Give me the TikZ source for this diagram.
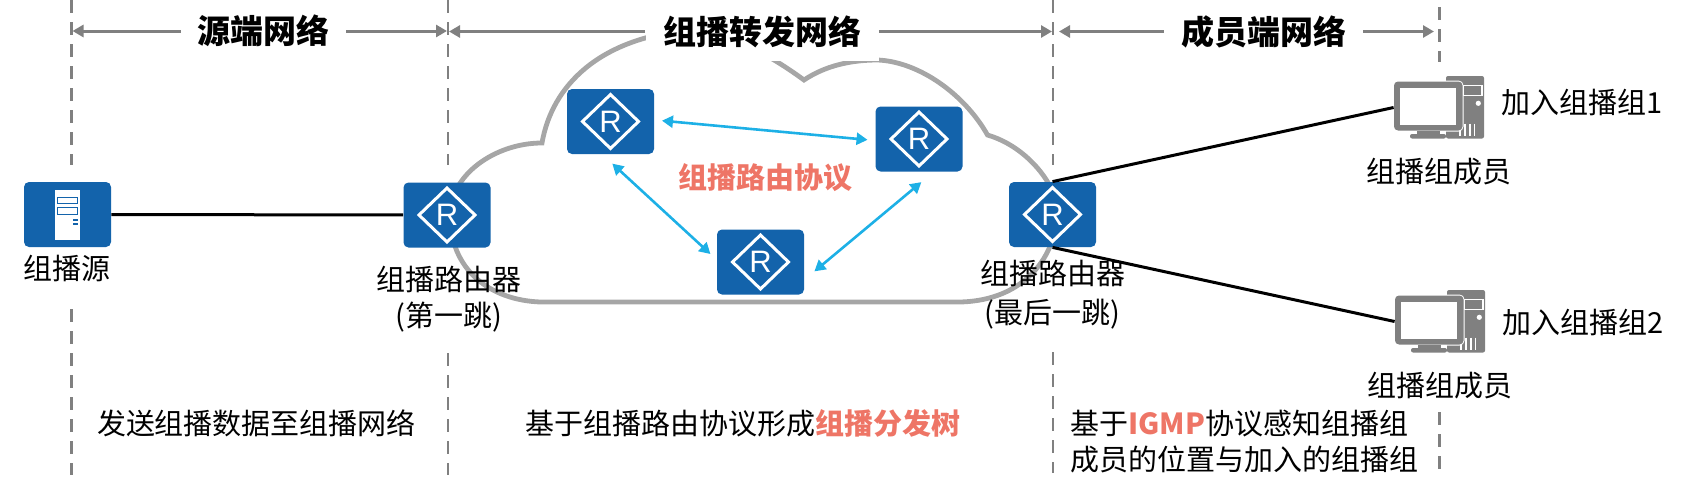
\documentclass[tikz,border=0pt]{standalone}
\usepackage{fontspec}
\setmainfont{Noto Sans CJK SC}
\newfontfamily\iconfont{Liberation Sans}
\usepackage{tikz}
\usetikzlibrary{arrows.meta,positioning}
\definecolor{huaweiblue}{HTML}{1363AB}
\definecolor{linkblue}{HTML}{1DB0E6}
\definecolor{salmon}{HTML}{EE7566}
\definecolor{cloudgray}{HTML}{A6A6A6}
\definecolor{spangray}{HTML}{808080}
\newcommand{\hot}[1]{\textbf{\textcolor{salmon}{#1}}}

\begin{document}
\begin{tikzpicture}[x=0.5pt, y=-0.5pt]
        \tikzstyle{block} = [rectangle, fill=huaweiblue, rounded corners=2.5pt, minimum width=43.5pt, minimum height=32.5pt, inner sep=0pt]
        \tikzstyle{router} = [block,
            label={[text=white, inner sep=0pt, font=\iconfont\fontsize{15.5}{15.5}\selectfont]center:R},
            path picture={\draw [white, sharp corners, line width=1.5pt, line join=miter] (-28,0) -- (0,-27) -- (28,0) -- (0,27) -- cycle;}]
        \tikzstyle{server} = [block,
            path picture={
                \fill [white, sharp corners] (-13,-25) rectangle (12.5,25);
                \draw [huaweiblue, sharp corners, line width=0.6pt] (-10,-17) rectangle (10,-11);
                \draw [huaweiblue, sharp corners, line width=0.6pt] (-10,-7) rectangle (10,0);
                \fill [huaweiblue, sharp corners] (5.5,4) rectangle (10,6.5);
                \fill [huaweiblue, sharp corners] (5.5,8) rectangle (10,10.5);}]
        \tikzstyle{member} = [rectangle, minimum width=45pt, minimum height=31.5pt, inner sep=0pt,
            path picture={
                \fill [spangray, rounded corners=1pt] (7,-31.5) rectangle (45,31);
                \draw [white, line width=0.6pt] (24,-22) rectangle (43,-12);
                \fill [white] (39.3,-4.2) circle (2.6);
                \draw [white, line width=0.7pt] (21,16) -- (21,28) (26,16) -- (26,28) (31,16) -- (31,28) (35.5,16) -- (35.5,28);
                \fill [white, rounded corners=2.5pt] (-46,-27) rectangle (24.5,24);
                \fill [spangray, rounded corners=2pt] (-45,-26) rectangle (23.5,23);
                \fill [white] (-39,-20) rectangle (17,17);
                \fill [spangray] (-22,23) rectangle (1,26);
                \fill [spangray, rounded corners=1pt] (-29,26.5) rectangle (7,31);}]
        \tikzstyle{head} = [rectangle, fill=white, inner sep=0pt, font=\fontsize{16.5}{16.5}\selectfont\bfseries]
        \tikzstyle{caption} = [font=\fontsize{14.5}{18}\selectfont, inner sep=0pt, align=center]
        \tikzstyle{divider} = [draw=spangray, line width=1.2pt, dash pattern=on 6.5pt off 4.5pt]
        \tikzstyle{span} = [draw=spangray, line width=1.5pt, -{Triangle[length=5.5pt,width=6pt]}]
        \tikzstyle{line} = [draw=black, line width=1.5pt]
        \tikzstyle{proto} = [draw=linkblue, line width=1.3pt, {Triangle[length=5.5pt,width=6pt]}-{Triangle[length=5.5pt,width=6pt]}]

        \useasboundingbox (0,0) rectangle (1682,493);

        % dashed dividers
        \coordinate (d1a) at (71.5,0);
        \coordinate (d1b) at (71.5,165);
        \coordinate (d1c) at (71.5,309);
        \coordinate (d1d) at (71.5,475);
        \coordinate (d2a) at (448,0);
        \coordinate (d2b) at (448,165);
        \coordinate (d2c) at (448,353);
        \coordinate (d2d) at (448,475);
        \coordinate (d3a) at (1053,0);
        \coordinate (d3b) at (1053,165);
        \coordinate (d3c) at (1053,352);
        \coordinate (d3d) at (1053,473);
        \coordinate (d4a) at (1439.5,7);
        \coordinate (d4b) at (1439.5,62);
        \coordinate (d4c) at (1439.5,412);
        \coordinate (d4d) at (1439.5,469);
        \path [divider] (d1a) -- (d1b);
        \path [divider] (d1c) -- (d1d);
        \path [divider] (d2a) -- (d2b);
        \path [divider] (d2c) -- (d2d);
        \path [divider] (d3a) -- (d3b);
        \path [divider] (d3c) -- (d3d);
        \path [divider] (d4a) -- (d4b);
        \path [divider] (d4c) -- (d4d);

        % cloud
        \draw [cloudgray, line width=2.4pt, line join=miter]
            (542,143) .. controls (552,85) and (600,38) .. (690,30)
            .. controls (725,30) and (770,55) .. (804,80)
            .. controls (825,66) and (850,60) .. (878,60)
            .. controls (920,62) and (965,95) .. (987.5,135)
            .. controls (1015,143) and (1040,165) .. (1052,190)
            .. controls (1068,225) and (1045,300) .. (960,302)
            -- (540,302)
            .. controls (490,300) and (450,270) .. (450,215)
            .. controls (450,175) and (495,143) .. (542,143) -- cycle;

        % network headings
        \node [head, minimum width=82.5pt, minimum height=25pt] (srchead) at (263.5,31) {源端网络};
        \node [head, minimum width=116.5pt, minimum height=29pt] (fwdhead) at (762,31.5) {组播转发网络};
        \node [head, minimum width=99.5pt, minimum height=25pt] (memhead) at (1263.5,31.5) {成员端网络};
        \coordinate (s1a) at (72.5,31);
        \coordinate (s1b) at (447,31);
        \coordinate (s2a) at (449,31.5);
        \coordinate (s2b) at (1052,31.5);
        \coordinate (s3a) at (1059,31.5);
        \coordinate (s3b) at (1434,31.5);
        \path [span] (srchead) -- (s1a);
        \path [span] (srchead) -- (s1b);
        \path [span] (fwdhead) -- (s2a);
        \path [span] (fwdhead) -- (s2b);
        \path [span] (memhead) -- (s3a);
        \path [span] (memhead) -- (s3b);

        % devices
        \node [server] (src) at (67.5,214.5) {};
        \node [router] (first) at (447,215) {};
        \node [router] (topleft) at (610.5,121.5) {};
        \node [router] (topright) at (919,139) {};
        \node [router] (bottom) at (760.5,262) {};
        \node [router] (last) at (1052.5,214.5) {};
        \node [member] (pc1) at (1439,107.5) {};
        \node [member] (pc2) at (1440,321.5) {};

        \path [line] (src) -- (first);
        \path [line] (last.north) -- (pc1.west);
        \path [line] (last.south) -- (pc2.west);
        \path [proto, shorten <=3.8pt, shorten >=3.8pt] (topleft.2) -- (topright.182);
        \path [proto, shorten <=6.8pt, shorten >=4.2pt] (topleft.256) -- (bottom.177);
        \path [proto, shorten <=6.5pt, shorten >=8pt] (bottom.-22) -- (topright.294);

        % labels
        \node [caption, below of=src, node distance=27pt] (srclabel) {组播源};
        \node [caption, below of=first, node distance=42pt, xshift=1pt] (firstlabel) {组播路由器\\(第一跳)};
        \node [caption, below of=last, node distance=40pt] (lastlabel) {组播路由器\\[1.5pt](最后一跳)};
        \node [caption, below of=pc1, node distance=32pt] (pc1label) {组播组成员};
        \node [caption, below of=pc2, node distance=32pt] (pc2label) {组播组成员};
        \node [caption] (join1) at (1582,102) {加入组播组1};
        \node [caption] (join2) at (1583,322) {加入组播组2};
        \node [caption] (protolabel) at (765,178) {\hot{组播路由协议}};
        \node [caption] (note1) at (256.5,423) {发送组播数据至组播网络};
        \node [caption] (note2) at (743,423) {基于组播路由协议形成\hot{组播分发树}};
        \node [caption, anchor=west, align=left] (note3) at (1070,441.5) {基于\hot{IGMP}协议感知组播组\\成员的位置与加入的组播组};
    \end{tikzpicture}
\end{document}
